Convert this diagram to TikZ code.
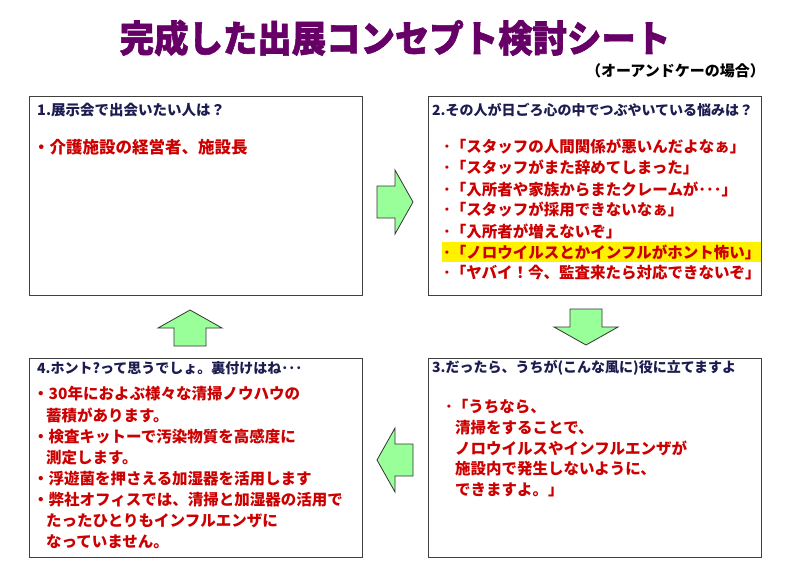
\documentclass[tikz,border=0pt]{standalone}
\usepackage{fontspec}
\setmainfont{Noto Sans CJK JP}
\newfontfamily\ttlfont{Noto Sans CJK JP}[FakeBold=1.6]
\usetikzlibrary{positioning}
\definecolor{ttlpurple}{HTML}{660066}
\definecolor{hdnavy}{HTML}{1C1C50}
\definecolor{txtred}{HTML}{CC0000}
\definecolor{arrgreen}{HTML}{99FF99}
\tikzset{
  panel/.style={draw=black!75, line width=1.2pt, fill=white, minimum width=333pt, minimum height=199pt, inner sep=0pt, anchor=north west},
  head/.style={anchor=west, inner sep=0pt, text=hdnavy, font=\bfseries\fontsize{14}{14}\selectfont},
  redline/.style={anchor=west, inner sep=0pt, text=txtred, font=\bfseries\fontsize{15.5}{15.5}\selectfont},
  blockarrow/.style={draw=black!80, line width=.8pt, fill=arrgreen, line join=miter}
}
\begin{document}
\begin{tikzpicture}[x=1pt,y=-1pt]
\useasboundingbox (0,0) rectangle (794,562);
% title
\node[transform shape, xscale=.93, text=ttlpurple, font=\ttlfont\bfseries\fontsize{37}{37}\selectfont] (title) at (395,38) {完成した出展コンセプト検討シート};
\node[anchor=east, inner sep=0pt, font=\bfseries\fontsize{15}{15}\selectfont] (sub) at (765,71) {（オーアンドケーの場合）};
% the four panels
\foreach \n/\x/\y in {1/29/96,2/428/96,3/428/358,4/29/358}
  \node[panel] (box\n) at (\x,\y) {};
% green block arrows
\foreach \x/\y/\r in {395/202/0,586/327/-90,395/460/180,190/328/90}
  \draw[blockarrow, shift={(\x,\y)}, rotate=\r] (-18,-16)--(0,-16)--(0,-32)--(18,0)--(0,32)--(0,16)--(-18,16)--cycle;
% panel 1
\node[head, font=\bfseries\fontsize{14.5}{14.5}\selectfont] (h1) at (37,110) {1.展示会で出会いたい人は？};
\node[redline, font=\bfseries\fontsize{16.5}{16.5}\selectfont] (p1a) at (33,147) {・介護施設の経営者、施設長};
% panel 2
\node[head] (h2) at (432,110) {2.その人が日ごろ心の中でつぶやいている悩みは？};
\foreach \i/\y/\t in {a/147/{･「スタッフの人間関係が悪いんだよなぁ」},
                      b/168/{･「スタッフがまた辞めてしまった」},
                      c/189/{･「入所者や家族からまたクレームが･･･」},
                      d/210/{･「スタッフが採用できないなぁ」},
                      e/231/{･「入所者が増えないぞ」},
                      g/273/{･「ヤバイ！今、監査来たら対応できないぞ」}}
  \node[redline] (p2\i) at (443,\y) {\t};
\node[redline, fill=yellow, inner xsep=1pt, inner ysep=2pt] (p2f) at (442,252) {･「ノロウイルスとかインフルがホント怖い」};
% panel 3
\node[head] (h3) at (432,368) {3.だったら、うちが(こんな風に)役に立てますよ};
\node[redline] (p3a) at (445,407) {･「うちなら、};
\foreach \i/\y/\t in {b/428/清掃をすることで、,c/448/ノロウイルスやインフルエンザが,d/469/施設内で発生しないように、,e/490/できますよ。」}
  \node[redline] (p3\i) at (455,\y) {\t};
% panel 4
\node[head] (h4) at (37,368) {4.ホント?って思うでしょ。裏付けはね･･･};
\foreach \i/\x/\y/\t in {a/33/394/・30年におよぶ様々な清掃ノウハウの,b/46/415/蓄積があります。,
                         c/33/437/・検査キットーで汚染物質を高感度に,d/46/458/測定します。,
                         e/33/479/・浮遊菌を押さえる加湿器を活用します,f/33/500/・弊社オフィスでは、清掃と加湿器の活用で,
                         g/46/521/たったひとりもインフルエンザに,h/46/542/なっていません。}
  \node[redline] (p4\i) at (\x,\y) {\t};
\end{tikzpicture}
\end{document}
